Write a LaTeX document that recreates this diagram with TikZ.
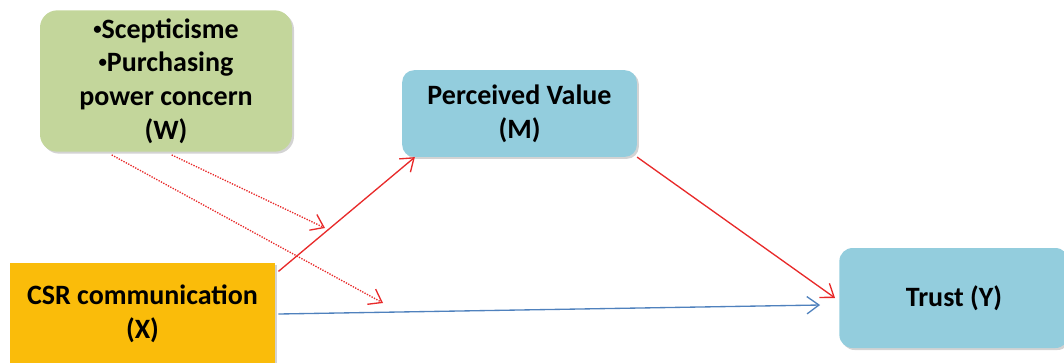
\documentclass[tikz,border=0pt]{standalone}
\usepackage{fontspec}
\setmainfont{Carlito}
\usetikzlibrary{arrows.meta,shadows}

\definecolor{modgreen}{RGB}{195,214,155}
\definecolor{varblue}{RGB}{147,205,221}
\definecolor{csrorange}{RGB}{250,188,10}
\definecolor{pathred}{RGB}{232,42,42}
\definecolor{pathblue}{RGB}{79,129,189}

\newcommand{\smallbullet}{\raisebox{0.3ex}{\scalebox{0.6}{•}}}

\tikzset{
  varbox/.style={rounded corners=9pt,align=center,inner sep=0pt,
    font=\fontsize{21}{25.3}\selectfont\bfseries,
    drop shadow={shadow xshift=1.5pt,shadow yshift=-1.5pt,opacity=0.35}},
  redpath/.style={pathred,line width=1pt,-{Straight Barb[length=9pt,width=13pt]}},
  modpath/.style={pathred,line width=1pt,dash pattern=on 1pt off 1pt,
    -{Straight Barb[length=9pt,width=13pt,line width=1pt]}},
  bluepath/.style={pathblue,line width=1pt,-{Straight Barb[length=9pt,width=13pt]}}
}

\begin{document}
\begin{tikzpicture}[x=0.75pt,y=-0.75pt]
\useasboundingbox (0,0) rectangle (1064,362);
% boxes
\node[varbox,fill=modgreen,rounded corners=13pt,minimum width=189pt,minimum height=106pt]
  (W) at (166,81) {\smallbullet Scepticisme\\\smallbullet Purchasing\\power concern\\(W)};
\node[varbox,fill=varblue,minimum width=176pt,minimum height=65pt]
  (M) at (519.5,113.5) {Perceived Value\\(M)};
\node[varbox,fill=csrorange,rounded corners=0pt,minimum width=199pt,minimum height=77pt]
  (X) at (142.5,314) {CSR communication\\(X)};
\node[varbox,fill=varblue,rounded corners=10pt,minimum width=172pt,minimum height=75pt]
  (Y) at (954,298) {Trust (Y)};
% moderator ends
\coordinate (mod1) at (325,228);
\coordinate (mod2) at (383,303);
% paths
\draw[redpath] ([shift={(3,9)}]X.north east) -- ([shift={(13,0)}]M.south west);
\draw[redpath] (M.south east) -- ([shift={(-4,0)}]Y.west);
\draw[bluepath] ([shift={(3,0)}]X.east) -- ([shift={(-19,7)}]Y.west);
\draw[modpath] ([shift={(72,3)}]W.south west) -- (mod2);
\draw[modpath] ([shift={(132,3)}]W.south west) -- (mod1);
\end{tikzpicture}
\end{document}
